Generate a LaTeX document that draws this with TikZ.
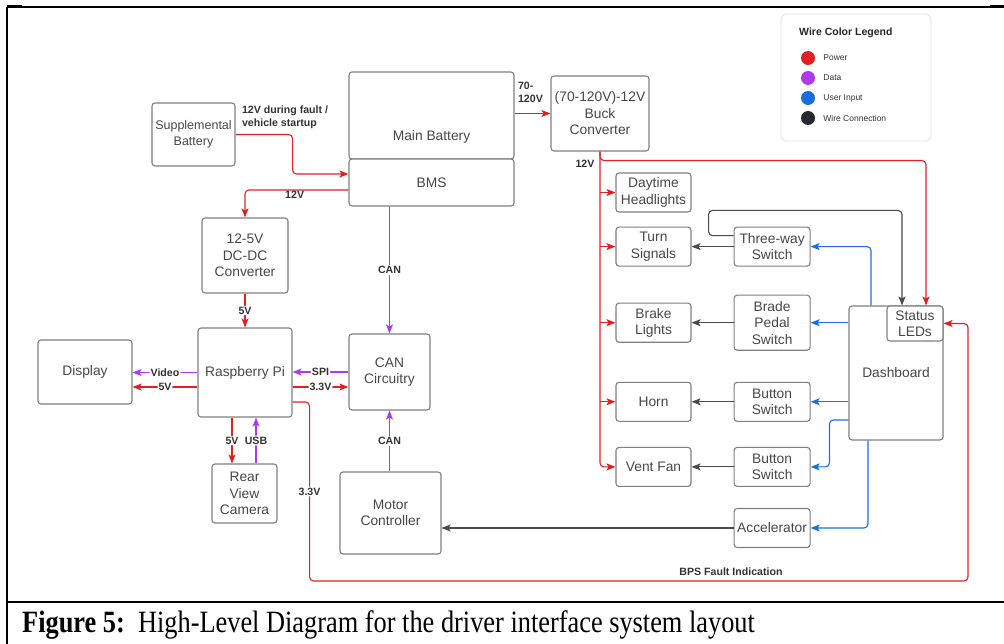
\documentclass[tikz,border=0pt]{standalone}
\usepackage{fontspec}
\setmainfont{Liberation Sans}
\newfontfamily\capfont{Liberation Serif}
\usetikzlibrary{arrows.meta,positioning,calc}
\definecolor{pwrred}{RGB}{226,32,36}
\definecolor{datapurple}{RGB}{174,58,240}
\definecolor{userblue}{RGB}{28,110,222}
\definecolor{wireblack}{RGB}{38,42,48}
\definecolor{boxgray}{RGB}{128,128,128}
\definecolor{txtgray}{RGB}{72,72,72}
\tikzset{x=1pt, y=-1pt, % One unit per pixel, y running downwards
        every node/.style={text=txtgray},
        block/.style={ % Sets the properties for each component box
            draw=boxgray, line width=1.1pt, rounded corners=3pt,
            fill=white, align=center, inner sep=0pt,
            font=\fontsize{13.8}{16.5}\selectfont},
        load/.style={block, minimum width=75pt, minimum height=39pt},
        switchbox/.style={block, minimum width=76pt, minimum height=39pt},
        wire/.style={ % Sets the properties for each connector
            draw, line width=1.1pt, rounded corners=4pt,
            -{Stealth[length=9pt,width=7pt,inset=2pt]}},
        pwr/.style={wire, pwrred},
        data/.style={wire, datapurple},
        input/.style={wire, userblue},
        link/.style={wire, wireblack!85},
        tag/.style={ % Bold labels sitting on the wires
            fill=white, inner sep=1pt, text=black!80,
            font=\bfseries\fontsize{10.6}{13.5}\selectfont},
        keydot/.style={circle, minimum size=14pt, inner sep=0pt},
        keytext/.style={inner sep=0pt, text=black!80,
            font=\fontsize{8.5}{10}\selectfont}
        }

\begin{document}
\begin{tikzpicture}
    \useasboundingbox (0,0) rectangle (1004,644);

    % frame and caption
    \draw[line width=2pt] (7,7) -- (7,644);
    \draw[line width=1.5pt] (7,7) -- (1004,7);
    \draw[line width=3pt] (7,7) -- (22,7) (990,7) -- (1004,7);
    \draw[line width=2pt] (7,602) -- (1004,602);
    \node[anchor=base west, inner sep=0pt, text=black, font=\capfont\fontsize{31}{34}\selectfont]
        (caption) at (22,632) {\scalebox{0.85}[1]{\textbf{Figure 5:}\ \ High-Level Diagram for the driver interface system layout}};

    % batteries and converters
    \node[block, minimum width=165pt, text height=69pt, text depth=18pt] (mainbat) at (431.5,115.5) {Main Battery};
    \node[block, minimum width=165pt, minimum height=47pt] (bms) at (431.5,182.5) {BMS};
    \node[block, minimum width=83pt, minimum height=63pt, font=\fontsize{12.5}{16}\selectfont] (supp) at (193.5,134.5) {Supplemental\\Battery};
    \node[block, minimum width=98pt, minimum height=75pt] (buck) at (600,113.5) {(70-120V)-12V\\Buck\\Converter};
    \node[block, minimum width=86pt, minimum height=75pt] (dcdc) at (245,255.5) {12-5V\\DC-DC\\Converter};

    % controller side
    \node[block, minimum width=94pt, minimum height=89pt] (pi) at (245,372.5) {Raspberry Pi};
    \node[block, minimum width=94pt, minimum height=64pt] (disp) at (85,372) {Display};
    \node[block, minimum width=65pt, minimum height=59pt] (cam) at (244.5,493.5) {Rear\\View\\Camera};
    \node[block, minimum width=81pt, minimum height=76pt] (canc) at (389.5,372) {CAN\\Circuitry};
    \node[block, minimum width=101pt, minimum height=82pt] (motor) at (390.5,513) {Motor\\Controller};

    % 12V loads and their switches
    \node[load] (day) at (653.5,192.5) {Daytime\\Headlights};
    \node[load] (turn) [below=14pt of day] {Turn\\Signals};
    \node[load] (brake) [below=36pt of turn] {Brake\\Lights};
    \node[load] (horn) [below=39pt of brake] {Horn};
    \node[load] (vent) [below=25pt of horn] {Vent Fan};
    \node[switchbox] (three) [right=42pt of turn] {Three-way\\Switch};
    \node[switchbox, minimum height=55pt] (pedal) [right=42pt of brake] {Brade\\Pedal\\Switch};
    \node[switchbox] (btnA) [right=42pt of horn] {Button\\Switch};
    \node[switchbox] (btnB) [right=42pt of vent] {Button\\Switch};
    \node[switchbox] (accel) [below=21pt of btnB] {Accelerator};
    \node[block, minimum width=94pt, minimum height=134pt] (dash) at (896,373) {Dashboard};
    \node[block, minimum width=56pt, minimum height=35pt, anchor=north east] (leds) at (dash.north east) {Status\\LEDs};

    % legend
    \node[draw=black!12, line width=0.8pt, rounded corners=6pt, minimum width=150pt, minimum height=127pt] (legend) at (856,77.5) {};
    \node[anchor=west, inner sep=0pt, text=black!85, font=\bfseries\fontsize{10.5}{12}\selectfont] (legtitle) at (799,33) {Wire Color Legend};
    \foreach \c/\t [count=\i] in {pwrred/Power, datapurple/Data, userblue/User Input, wireblack/Wire Connection} {
        \node[keydot, fill=\c] (key\i) at (808,38+20*\i) {};
        \node[keytext, right=8pt of key\i] {\t};
    }

    % power
    \draw[pwr] (supp.east) node[tag, fill=none, anchor=south west, align=left, xshift=5pt, yshift=4pt] {12V during fault /\\vehicle startup}
        -- ++(57,0) |- ([yshift=8.5pt]bms.west);
    \draw[pwr] ([yshift=-7.5pt]bms.west) -| node[tag, fill=none, pos=0.26, below] {12V} (dcdc.north);
    \draw[pwr] (mainbat.east |- buck.west) node[tag, fill=none, anchor=south west, align=left, xshift=2pt, yshift=9pt] {70-\\120V} -- (buck.west);
    \draw[pwr] (buck.south) |- (vent.west);
    \foreach \n in {day, turn, brake, horn}
        \draw[pwr] (buck.south |- \n.west) -- (\n.west);
    \draw[pwr] (buck.south) -- ++(0,9) node[tag, fill=none, left, xshift=-4pt, yshift=-3pt] {12V} -| ([xshift=11pt]leds.north);
    \draw (dcdc) edge[pwr] node[tag] {5V} (pi);
    \draw[pwr] ([yshift=-14.5pt]pi.west) -- node[tag] {5V} ([yshift=-14.5pt]pi.west -| disp.east);
    \draw[pwr] ([xshift=-13pt]pi.south) -- node[tag] {5V} ([xshift=-13pt]pi.south |- cam.north);
    \draw[pwr] ([yshift=-14.5pt]pi.east) -- node[tag] {3.3V} ([yshift=-14.5pt]pi.east -| canc.west);
    \coordinate (bps) at (968,581);
    \draw[pwr] ([yshift=-29.5pt]pi.east) -- ++(17,0)
        |- node[tag, pos=0.25] {3.3V} node[tag, fill=none, pos=0.82, above=4pt] {BPS Fault Indication} (bps)
        |- (leds.east);

    % data
    \draw[data] (pi.west) -- node[tag] {Video} (pi.west -| disp.east);
    \draw[data] ([xshift=11.5pt]cam.north) -- node[tag] {USB} ([xshift=11.5pt]cam.north |- pi.south);
    \draw[data] (canc.west) -- node[tag] {SPI} (canc.west -| pi.east);
    \draw[data] (canc.north |- bms.south) -- node[tag] {CAN} (canc.north);
    \draw[data] (canc.south |- motor.north) -- node[tag] {CAN} (canc.south);

    % user input
    \draw[input] ([xshift=-25pt]dash.north) |- (three.east);
    \draw[input] (dash.west |- pedal.east) -- (pedal.east);
    \draw[input] (dash.west |- btnA.east) -- (btnA.east);
    \draw[input] ([yshift=-47pt]dash.west) -- ++(-19,0) |- (btnB.east);
    \draw[input] ([xshift=-28pt]dash.south) |- (accel.east);

    % wire connections
    \draw (three) edge[link] (turn)
          (pedal) edge[link] (brake)
          (btnA) edge[link] (horn)
          (btnB) edge[link] (vent);
    \draw[link] (accel.west) -- (accel.west -| motor.east);
    \draw[link] ([yshift=11pt]three.west) -- ++(-25,0)
        |- ([xshift=-13pt, yshift=95pt]leds.north) -- ([xshift=-13pt]leds.north);
\end{tikzpicture}
\end{document}
